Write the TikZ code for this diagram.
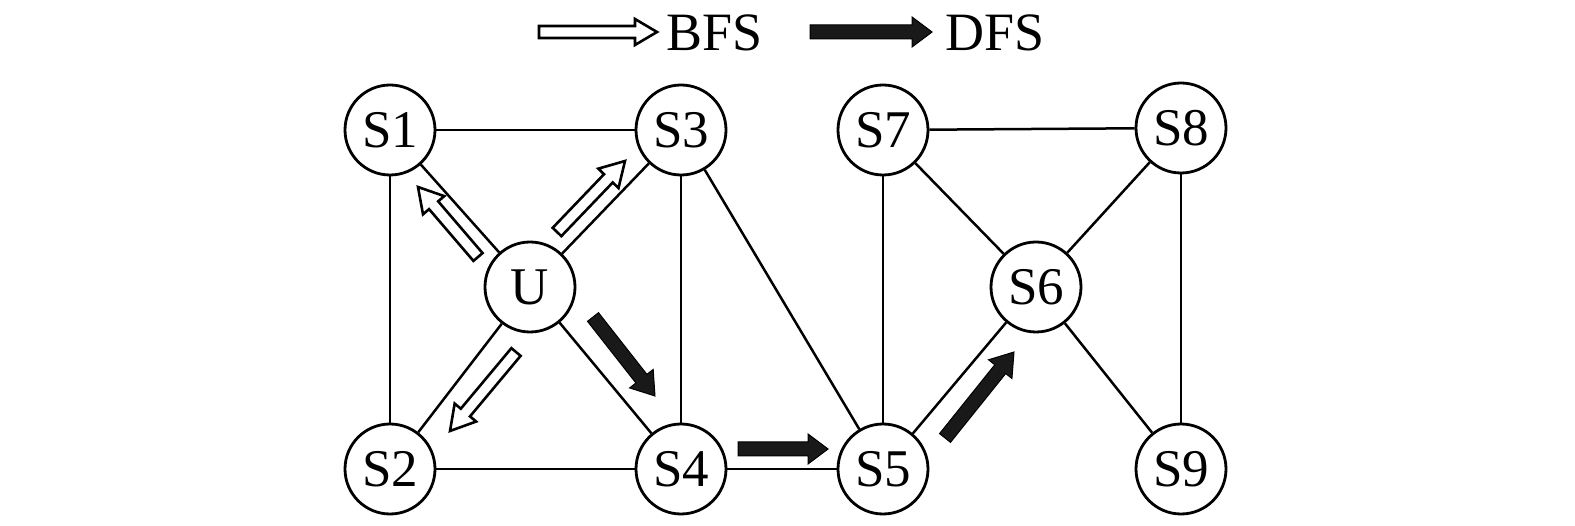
\documentclass[tikz,border=0pt]{standalone}
\usepackage{fontspec}
\setmainfont{Liberation Serif}
\usetikzlibrary{calc}
\tikzset{
  vtx/.style={circle, draw, line width=2.8pt, minimum size=90pt, inner sep=0pt, font=\fontsize{53}{53}\selectfont},
  edge/.style={line width=2.5pt},
  openarr/.style={draw, line width=2.6pt, fill=white, line join=miter},
  fillarr/.style={draw, line width=1pt, fill=black!90, line join=miter},
  lgd/.style={anchor=west, font=\fontsize{54}{54}\selectfont, inner sep=0pt},
}
% \bigarrow{style}{tail}{tip}{shaft half}{head half}{head length}
\newcommand{\bigarrow}[6]{%
  \path let \p1=#2, \p2=#3, \n1={veclen(\x2-\x1,\y2-\y1)}, \n2={atan2(\y2-\y1,\x2-\x1)} in
    [shift={(\p1)}, rotate=\n2]
    [#1] (0pt,-#4) -- (\n1-#6,-#4) -- (\n1-#6,-#5) -- (\n1,0pt) -- (\n1-#6,#5) -- (\n1-#6,#4) -- (0pt,#4) -- cycle;}
\begin{document}
\begin{tikzpicture}[x=1pt,y=-1pt]
\useasboundingbox (0,0) rectangle (1575,526);
\node[vtx] (S1) at (390,130) {S1};
\node[vtx] (S3) at (681,130) {S3};
\node[vtx] (S7) at (883,130) {S7};
\node[vtx] (S8) at (1181,128) {S8};
\node[vtx] (U) at (530,287) {U};
\node[vtx] (S6) at (1036,287) {S6};
\node[vtx] (S2) at (390,469) {S2};
\node[vtx] (S4) at (681,469) {S4};
\node[vtx] (S5) at (883,469) {S5};
\node[vtx] (S9) at (1181,469) {S9};
\foreach \a/\b in {S1/S3,S1/S2,S1/U,S3/U,S3/S4,S3/S5,U/S2,U/S4,S2/S4,S4/S5,S5/S7,S7/S8,S7/S6,S8/S6,S8/S9,S6/S5,S6/S9}
  \draw[edge] (\a) -- (\b);
% legend
\bigarrow{openarr}{(539,32)}{(657,32)}{6pt}{13pt}{22pt}
\node[lgd] (bfs) at (666,33) {BFS};
\bigarrow{fillarr}{(810,32)}{(932,32)}{7pt}{15pt}{20pt}
\node[lgd] (dfs) at (945,33) {DFS};
% BFS arrows
\bigarrow{openarr}{(478,257)}{(418,187)}{6pt}{14pt}{24pt}
\bigarrow{openarr}{(557,232)}{(625,161)}{6pt}{14pt}{24pt}
\bigarrow{openarr}{(516,352)}{(450,431)}{6pt}{14pt}{24pt}
% DFS arrows
\bigarrow{fillarr}{(593,317)}{(655,396)}{7pt}{15pt}{22pt}
\bigarrow{fillarr}{(738,449)}{(828,449)}{7pt}{15pt}{20pt}
\bigarrow{fillarr}{(945,438)}{(1014,352)}{7pt}{15pt}{22pt}
\end{tikzpicture}
\end{document}
